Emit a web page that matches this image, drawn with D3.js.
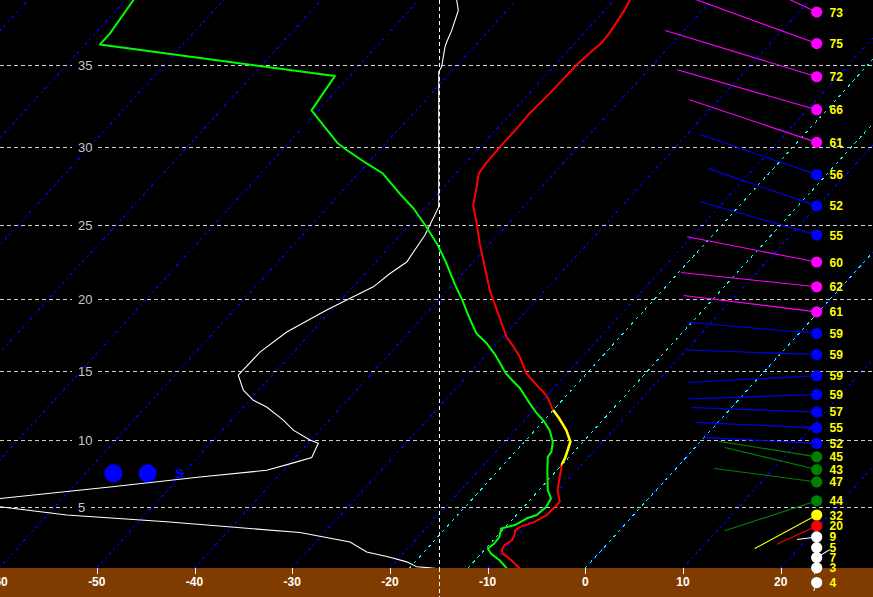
<!DOCTYPE html>
<html><head><meta charset="utf-8">
<script src="https://cdn.jsdelivr.net/npm/d3@7"></script>
<style>html,body{margin:0;padding:0;background:#000;overflow:hidden}</style>
</head><body>
<svg id="c" width="873" height="597"></svg>
<script>
// ---------------- data ----------------
const heightTicks = [5, 10, 15, 20, 25, 30, 35];            // kft
const tempTicks = [-60, -50, -40, -30, -20, -10, 0, 10, 20];  // deg C
const isotherms = [-110,-100,-90,-80,-70,-60,-50,-40,-30,-20,-10,0,10,20,30];
const dgzIsotherms = [-18, -12, 0];
const dgzRange = [-18, -12];
const refValue = -15;

// temperature profile (height kft, temp C)
const tempHeights = [0.23,0.87,1.39,1.65,2.04,2.43,2.82,3.21,3.47,3.86,4.38,4.90,5.40,6.28,7.27,8.28,8.66,9.41,9.90,10.75,11.60,12.25,13.05,13.52,13.89,14.86,16.02,16.83,17.41,19.06,20.64,22.86,23.78,25.12,26.27,27.23,28.32,28.97,30.12,31.22,32.08,33.31,35.04,35.92,36.31,36.91,38.26,38.85,40];
const tempValues  = [-6.7,-8.3,-9.8,-10.2,-10.4,-10.1,-10.3,-10.7,-10.5,-9.5,-8.9,-8.8,-8.8,-10.1,-11.1,-12.1,-12.3,-12.9,-13.3,-14.8,-16.6,-18.1,-19.6,-20.7,-21.7,-24.2,-26.4,-28.2,-29.6,-32.7,-35.7,-39.5,-41.1,-43.3,-45.3,-46.4,-47.7,-47.9,-48.0,-48.0,-48.1,-47.9,-47.8,-47.5,-47.3,-47.4,-48.0,-48.4,-49.2];

// dewpoint profile
const dewHeights = [0.23,0.87,1.39,1.79,2.18,2.70,3.35,3.61,4.13,4.38,5.02,5.65,6.28,7.78,8.78,9.15,9.90,10.75,11.35,12.07,12.68,13.77,14.25,14.86,15.56,16.25,16.95,17.65,18.69,19.97,21.08,22.53,23.65,24.87,26.06,27.02,28.31,28.95,29.80,30.24,32.27,34.36,36.25,36.90,38.85,40];
const dewValues  = [-8.0,-9.5,-11.0,-11.8,-11.6,-11.7,-12.3,-11.2,-10.6,-9.9,-9.7,-10.0,-11.1,-13.0,-14.2,-14.3,-15.1,-16.5,-17.8,-19.6,-21.0,-23.4,-24.7,-26.3,-27.8,-29.3,-31.0,-33.0,-35.1,-37.6,-39.9,-42.8,-45.2,-48.1,-51.1,-53.9,-57.5,-60.1,-63.4,-65.0,-70.7,-71.5,-98.5,-98.5,-99.2,-99.6];

// white (unskewed) profile
const whiteHeights = [40,38.85,38.26,37.09,36.40,36.11,34.93,34.62,26.16,24.32,22.53,21.76,20.86,19.97,19.27,17.76,16.35,14.73,13.65,12.92,12.44,11.48,10.75,10.03,9.78,8.73,8.33,7.78,7.27,6.52,5.65,5.34,5.02,4.38,3.86,3.03,2.30,1.52,1.13,0.74,0.35,0.27,0.1];
const whiteValues  = [-13.2,-13.16,-13.0,-13.67,-14.19,-14.36,-14.70,-15,-15,-16.41,-18.28,-19.99,-21.70,-24.42,-26.47,-30.56,-33.30,-35.52,-35.0,-33.98,-32.61,-30.91,-29.89,-28.18,-27.33,-28.0,-29.89,-32.61,-39.44,-48.65,-59.91,-75,-59.91,-53.08,-42.85,-29.20,-24.08,-22.37,-20.09,-18.28,-17.26,-15.9,-14];

// "S" markers
const markerHeight = 7.55;
const markerValues = [-48.3, -44.8];
const markerLabel = "S";
const markerLabelValue = -42.0;

// winds
const windHeights = [38.16,36.31,34.32,32.31,30.28,28.24,26.23,24.32,22.53,20.86,19.15,17.65,16.18,14.68,13.34,12.08,10.92,9.78,8.78,7.83,6.90,5.47,4.38,3.54,2.69,1.86,1.08,0.27,-0.9];
const windSpeeds  = [73,75,72,66,61,56,52,55,60,62,61,59,59,59,59,57,55,52,45,43,47,44,32,20,9,5,7,3,4];
const windDirs    = [295,290,287,286,288.5,289,289,286,281,276,277,275,272,267,268,272,272.6,273,279,283.5,277.5,252,241.6,245.4,262.6,0,59,200,200];

// ---------------- layout ----------------
const W = 873, H = 597, plotBottom = 568;
const svg = d3.select("#c");
const P0 = 1013.25;
const pres = h => P0 * Math.pow(1 - 2.25577e-5 * h * 304.8, 5.25588);
const yP = d3.scaleLog().domain([1003.9, 197.7]).range([plotBottom, 0]);
const Y = h => yP(pres(h));
const xT = d3.scaleLinear().domain([-60, 30]).range([-0.9, 878.4]);
const skew = 0.911;
const SX = (T, h) => xT(T) + skew * (plotBottom - Y(h));
const FONT = "Liberation Sans, Arial, sans-serif";

svg.append("rect").attr("width", W).attr("height", H).attr("fill", "#000");
svg.append("defs").append("clipPath").attr("id", "plot")
  .append("rect").attr("x", 0).attr("y", 0).attr("width", W).attr("height", plotBottom);

const g = svg.append("g").attr("clip-path", "url(#plot)");

// isotherms
g.selectAll("line.iso").data(isotherms).enter().append("line")
  .attr("x1", d => xT(d)).attr("y1", plotBottom)
  .attr("x2", d => xT(d) + skew * plotBottom).attr("y2", 0)
  .attr("stroke", "#0000ff").attr("stroke-width", 1).attr("stroke-dasharray", "3,3")
  .attr("shape-rendering", "crispEdges");
g.selectAll("line.dgz").data(dgzIsotherms).enter().append("line")
  .attr("x1", d => xT(d)).attr("y1", plotBottom)
  .attr("x2", d => xT(d) + skew * plotBottom).attr("y2", 0)
  .attr("stroke", "#00ffff").attr("stroke-width", 1).attr("stroke-dasharray", "3,4")
  .attr("shape-rendering", "crispEdges");

// horizontal gridlines
g.selectAll("line.hg").data(heightTicks).enter().append("line")
  .attr("x1", 0).attr("x2", W).attr("y1", d => Math.round(Y(d)) + 0.5).attr("y2", d => Math.round(Y(d)) + 0.5)
  .attr("stroke", "#d0d0d0").attr("stroke-width", 1).attr("stroke-dasharray", "4,3")
  .attr("shape-rendering", "crispEdges");

// height labels
const hl = svg.append("g");
heightTicks.forEach(h => {
  const t = hl.append("text").attr("x", 78).attr("y", Math.round(Y(h)) + 5)
    .attr("fill", "#c8c8c8").attr("font-family", FONT)
    .attr("font-size", 13).text(h);
  const bb = t.node().getBBox();
  hl.insert("rect", "text").attr("x", bb.x - 6).attr("y", Math.round(Y(h)) - 2)
    .attr("width", bb.width + 11).attr("height", 5).attr("fill", "#000");
});

// reference vertical dashed line
svg.append("line").attr("x1", Math.round(xT(refValue)) + 0.5).attr("x2", Math.round(xT(refValue)) + 0.5)
  .attr("y1", 0).attr("y2", H).attr("stroke", "#fff").attr("stroke-dasharray", "4,3")
  .attr("shape-rendering", "crispEdges");

const g2 = svg.append("g").attr("clip-path", "url(#plot)");

// white profile
const whiteLine = d3.line().x((d, i) => xT(whiteValues[i])).y(d => Y(d));
g2.append("path").attr("d", whiteLine(whiteHeights)).attr("fill", "none")
  .attr("stroke", "#fff").attr("stroke-width", 1.1);

// markers
markerValues.forEach(v => {
  g2.append("circle").attr("cx", xT(v)).attr("cy", Y(markerHeight)).attr("r", 9).attr("fill", "#0000ff");
});
g2.append("text").attr("x", xT(markerLabelValue)).attr("y", Y(markerHeight) + 5)
  .attr("fill", "#0000ff").attr("font-family", FONT)
  .attr("font-size", 13).attr("font-weight", "bold").text(markerLabel);

// dewpoint
const dewLine = d3.line().x((d, i) => SX(dewValues[i], d)).y(d => Y(d));
g2.append("path").attr("d", dewLine(dewHeights)).attr("fill", "none")
  .attr("stroke", "#00ff00").attr("stroke-width", 2).attr("stroke-linejoin", "round");

// temperature
const tempLine = d3.line().x((d, i) => SX(tempValues[i], d)).y(d => Y(d));
g2.append("path").attr("d", tempLine(tempHeights)).attr("fill", "none")
  .attr("stroke", "#ff0000").attr("stroke-width", 2).attr("stroke-linejoin", "round");

// dendritic zone highlight
const poly = [[SX(dgzRange[0], -1), Y(-1)], [SX(dgzRange[1], -1), Y(-1)],
              [SX(dgzRange[1], 45), Y(45)], [SX(dgzRange[0], 45), Y(45)]];
svg.select("defs").append("clipPath").attr("id", "dgz")
  .append("polygon").attr("points", poly.map(p => p.join(",")).join(" "));
g2.append("g").attr("clip-path", "url(#dgz)").append("path")
  .attr("d", tempLine(tempHeights)).attr("fill", "none")
  .attr("stroke", "#ffff00").attr("stroke-width", 2.5).attr("stroke-linejoin", "round");

// ground band
svg.append("rect").attr("x", 0).attr("y", plotBottom).attr("width", W).attr("height", H - plotBottom)
  .attr("fill", "#803c00");
svg.append("line").attr("x1", Math.round(xT(refValue)) + 0.5).attr("x2", Math.round(xT(refValue)) + 0.5)
  .attr("y1", plotBottom).attr("y2", H).attr("stroke", "#fff").attr("stroke-dasharray", "4,3")
  .attr("shape-rendering", "crispEdges");
const ax = svg.append("g");
tempTicks.forEach(t => {
  ax.append("line").attr("x1", Math.round(xT(t)) + 0.5).attr("x2", Math.round(xT(t)) + 0.5)
    .attr("y1", plotBottom).attr("y2", plotBottom + 6).attr("stroke", "#fff");
  ax.append("text").attr("x", xT(t)).attr("y", 586).attr("text-anchor", "middle")
    .attr("fill", "#fff").attr("font-family", FONT)
    .attr("font-size", 12).attr("font-weight", "bold").text(t);
});

// winds
const dotX = 816.7, labelX = 829.5;
const lenScale = d3.scaleLinear().domain([0, 100]).range([0, 220]);
const windColor = s => s >= 60 ? "#ff00ff" : s >= 50 ? "#0000ff" : s >= 40 ? "#008000" : s >= 30 ? "#ffff00" : s >= 20 ? "#ff0000" : "#ffffff";
const wg = svg.append("g");
windHeights.forEach((h, i) => {
  const s = windSpeeds[i], a = windDirs[i] * Math.PI / 180, L = lenScale(s);
  const cy = Y(h);
  wg.append("line").attr("x1", dotX).attr("y1", cy)
    .attr("x2", dotX + Math.sin(a) * L).attr("y2", cy - Math.cos(a) * L)
    .attr("stroke", windColor(s)).attr("stroke-width", 1.1);
});
windHeights.forEach((h, i) => {
  const s = windSpeeds[i], cy = Y(h);
  wg.append("circle").attr("cx", dotX).attr("cy", cy).attr("r", 5.6).attr("fill", windColor(s));
  wg.append("text").attr("x", labelX).attr("y", cy + 4.5)
    .attr("fill", "#ffff00").attr("font-family", FONT)
    .attr("font-size", 12).attr("font-weight", "bold").text(s);
});
</script>
</body></html>
